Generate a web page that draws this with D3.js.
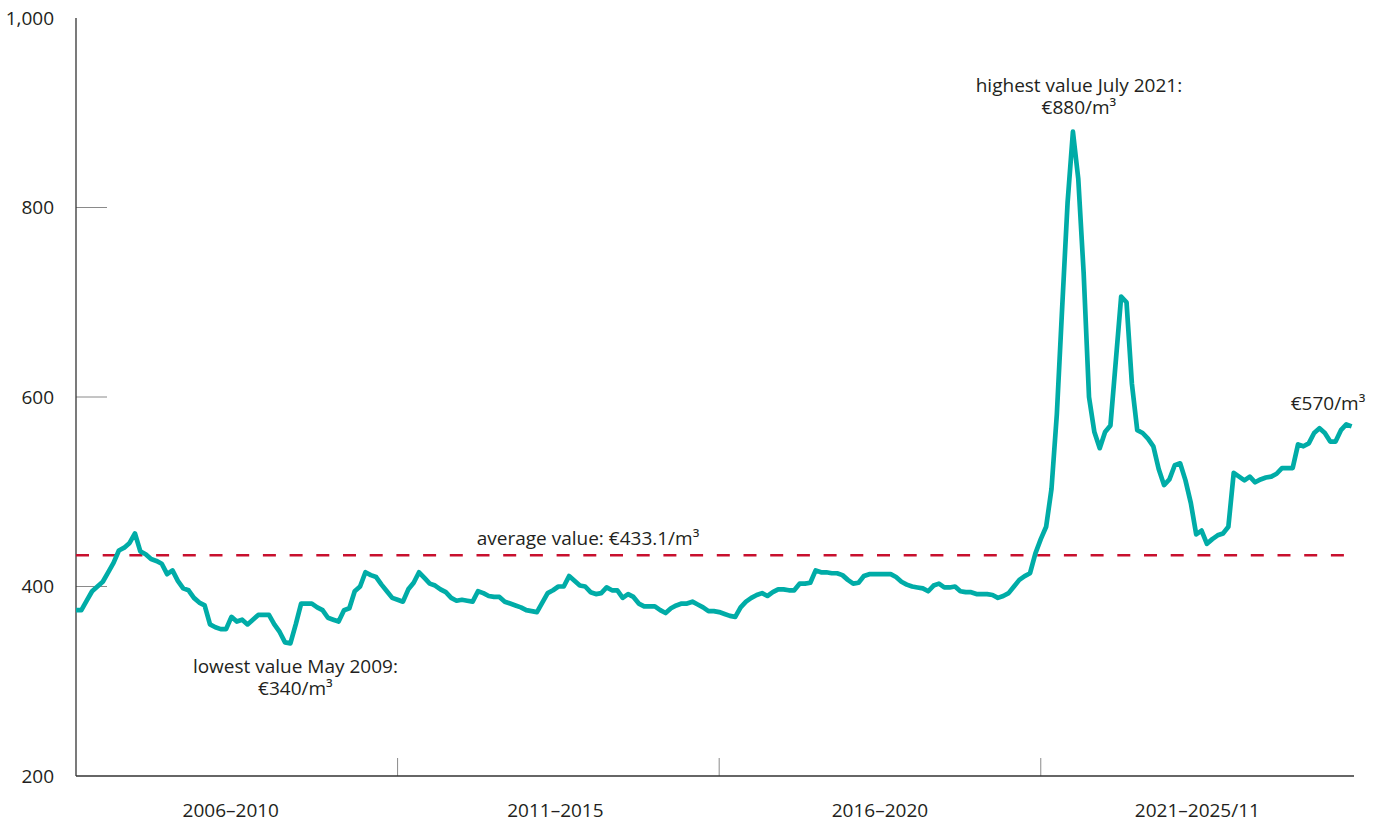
<!DOCTYPE html>
<html>
<head>
<meta charset="utf-8">
<script src="https://cdn.jsdelivr.net/npm/d3@7"></script>
<style>
  body { margin: 0; background: #fff; }
  text { font-family: "Open Sans", sans-serif; fill: #231f20; }
</style>
</head>
<body>
<div id="chart"></div>
<script>
// monthly price, Jan 2006 .. Nov 2025 (EUR per m3)
const values = [
  375, 375, 385, 395, 400, 405, 415, 425, 438, 441, 446, 456,
  437, 434, 429, 427, 424, 413, 417, 406, 398, 396, 388, 383,
  380, 360, 357, 355, 355, 368, 363, 365, 360, 365, 370, 370,
  370, 360, 352, 341, 340, 360, 382, 382, 382, 378, 375, 367,
  365, 363, 375, 377, 395, 400, 415, 412, 410, 402, 395, 388,
  386, 384, 397, 404, 415, 409, 403, 401, 397, 394, 388, 385,
  386, 385, 384, 395, 393, 390, 389, 389, 384, 382, 380, 378,
  375, 374, 373, 383, 393, 396, 400, 400, 411, 406, 401, 400,
  394, 392, 393, 399, 396, 396, 388, 392, 389, 382, 379, 379,
  379, 375, 372, 377, 380, 382, 382, 384, 381, 378, 374, 374,
  373, 371, 369, 368, 378, 384, 388, 391, 393, 390, 394, 397,
  397, 396, 396, 403, 403, 404, 417, 415, 415, 414, 414, 412,
  407, 403, 404, 411, 413, 413, 413, 413, 413, 410, 405, 402,
  400, 399, 398, 395, 401, 403, 399, 399, 400, 395, 394, 394,
  392, 392, 392, 391, 388, 390, 393, 400, 407, 411, 414, 435,
  450, 463, 503, 582, 695, 805, 880, 830, 731, 600, 563, 546,
  563, 570, 638, 706, 700, 614, 565, 562, 556, 548, 524, 507,
  513, 528, 530, 512, 488, 455, 459, 445, 450, 454, 456, 463,
  520, 516, 512, 516, 510, 513, 515, 516, 519, 525, 525, 525,
  550, 548, 551, 562, 567, 562, 553, 553, 565, 571, 569
];
const periods = ["2006–2010", "2011–2015", "2016–2020", "2021–2025/11"];
const periodStarts = [0, 60, 120, 180, 239];
const yTicks = [200, 400, 600, 800, 1000];
const average = 433.1;

const width = 1384, height = 825;
const mLeft = 76, mRight = 1354, mTop = 18, mBottom = 776;

const svg = d3.select("#chart").append("svg")
  .attr("width", width)
  .attr("height", height);

const x = d3.scaleLinear().domain([0, 239]).range([mLeft, 1357]);
const y = d3.scaleLinear().domain([200, 1000]).range([mBottom, mTop]);

// y tick stubs
svg.selectAll(".ytick").data(yTicks.filter(d => d > 200 && d < 1000)).enter()
  .append("line")
  .attr("x1", mLeft).attr("x2", mLeft + 31)
  .attr("y1", d => y(d)).attr("y2", d => y(d))
  .attr("stroke", "#8a8a8a").attr("stroke-width", 1);

svg.selectAll(".ylab").data(yTicks).enter()
  .append("text")
  .attr("x", 54)
  .attr("y", d => y(d))
  .attr("dy", "0.35em")
  .attr("text-anchor", "end")
  .style("font-size", "19px")
  .text(d => d3.format(",")(d));

// period separators
svg.selectAll(".ptick").data(periodStarts.slice(1, 4)).enter()
  .append("line")
  .attr("x1", d => x(d)).attr("x2", d => x(d))
  .attr("y1", mBottom - 18).attr("y2", mBottom)
  .attr("stroke", "#8a8a8a").attr("stroke-width", 1);

svg.selectAll(".plab").data(periods).enter()
  .append("text")
  .attr("x", (d, i) => (x(periodStarts[i]) + Math.min(x(periodStarts[i + 1]), mRight)) / 2 - (i === 0 ? 6 : i === 1 ? 3 : 0))
  .attr("y", 817)
  .attr("text-anchor", "middle")
  .style("font-size", "19px")
  .text(d => d);

// axes lines
svg.append("line")
  .attr("x1", mLeft).attr("x2", mLeft).attr("y1", mTop).attr("y2", mBottom)
  .attr("stroke", "#333").attr("stroke-width", 1.3);
svg.append("line")
  .attr("x1", mLeft).attr("x2", mRight).attr("y1", mBottom).attr("y2", mBottom)
  .attr("stroke", "#333").attr("stroke-width", 1.3);

// average
svg.append("line")
  .attr("x1", mLeft).attr("x2", mRight)
  .attr("y1", y(average)).attr("y2", y(average))
  .attr("stroke", "#c8102e").attr("stroke-width", 2.5)
  .attr("stroke-dasharray", "13,13.7");

const line = d3.line()
  .x((d, i) => x(i))
  .y(d => y(d));

svg.append("path")
  .datum(values)
  .attr("d", line)
  .attr("fill", "none")
  .attr("stroke", "#00aca7")
  .attr("stroke-width", 4.7)
  .attr("stroke-linejoin", "round");

// annotations
const iMax = d3.maxIndex(values), iMin = d3.minIndex(values);
const notes = [
  { x: x(iMax) + 6, y: 92, lines: ["highest value July 2021:", "€" + values[iMax] + "/m³"] },
  { x: x(iMin) + 5, y: 673, lines: ["lowest value May 2009:", "€" + values[iMin] + "/m³"] },
  { x: 588, y: y(average) - 10, lines: ["average value: €" + average + "/m³"] },
  { x: 1328, y: 410, lines: ["€570/m³"] }
];
const note = svg.selectAll(".note").data(notes).enter()
  .append("text")
  .attr("x", d => d.x).attr("y", d => d.y)
  .attr("text-anchor", "middle")
  .style("font-size", "19px");
note.selectAll("tspan").data(d => d.lines.map(t => ({ t, x: d.x }))).enter()
  .append("tspan")
  .attr("x", d => d.x)
  .attr("dy", (d, i) => i === 0 ? 0 : 21.5)
  .text(d => d.t);
</script>
</body>
</html>
